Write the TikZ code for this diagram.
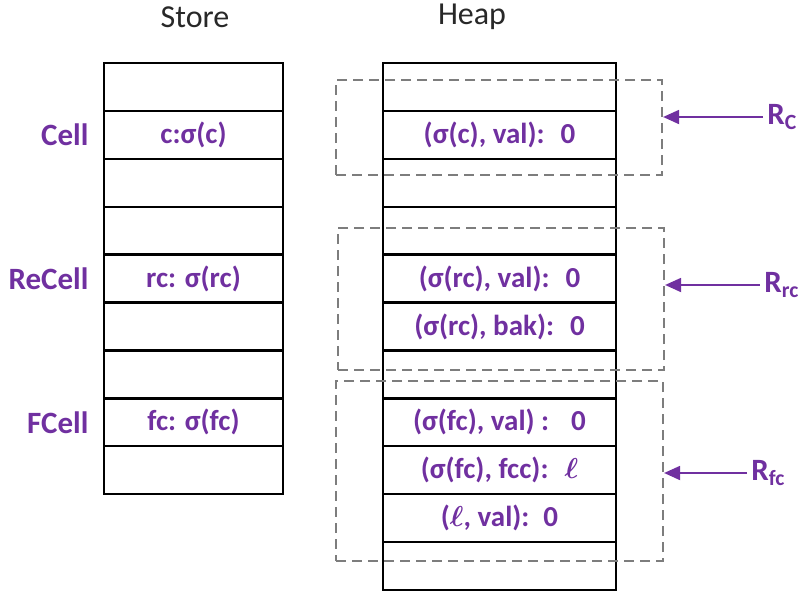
\documentclass[tikz,border=0pt]{standalone}
\usepackage{amsmath}
\usepackage{fontspec}
\setmainfont{Carlito}
\usetikzlibrary{arrows.meta,positioning}
\definecolor{lblInk}{RGB}{112,48,160}
\definecolor{regInk}{RGB}{125,125,125}
\definecolor{ttlInk}{RGB}{40,40,40}

\begin{document}
\begin{tikzpicture}[
  x=0.5pt, y=-0.5pt,
  slot/.style  ={draw=black, line width=1.2pt, minimum width=89.5pt, minimum height=23.95pt,
                 inner sep=0pt, text=lblInk, font=\fontsize{14.5}{16}\selectfont\bfseries},
  hslot/.style ={slot, minimum width=116.5pt},
  region/.style={draw=regInk, line width=1.1pt, dash pattern=on 5pt off 3pt, inner sep=0pt},
  lbl/.style   ={text=lblInk, inner sep=2pt, font=\fontsize{15.5}{17}\selectfont\bfseries},
  ttl/.style   ={text=ttlInk, inner sep=0pt, font=\fontsize{16}{18}\selectfont},
  ptr/.style   ={-{Triangle[length=8pt,width=7pt]}, line width=.9pt, draw=lblInk},
]
\useasboundingbox (0,0) rectangle (811,596);

% ============ STORE ============
\node[ttl] (store) at (195,17) {Store};
\foreach \i/\txt in {1/{},2/{c:σ(c)},3/{},4/{},5/{rc: σ(rc)},6/{},7/{},8/{fc: σ(fc)},9/{}}
  \node[slot] (s\i) at (193.5,{63+47.9*(\i-0.5)}) {\txt};

\node[lbl, left=5pt of s2] (cell)   {Cell};
\node[lbl, left=5pt of s5] (recell) {ReCell};
\node[lbl, left=5pt of s8] (fcell)  {FCell};

% ============ HEAP ============
\node[ttl] (heap) at (472,17) {Heap};
\foreach \i/\txt in {1/{},2/{(σ(c), val):\hspace{8pt}0},3/{},4/{},
                     5/{(σ(rc), val):\hspace{8pt}0},6/{(σ(rc), bak):\hspace{8pt}0},7/{},
                     8/{(σ(fc), val) :\hspace{11pt}0},9/{(σ(fc), fcc):\hspace{8pt}$\boldsymbol{\ell}$},
                     10/{($\boldsymbol{\ell}$, val):\hspace{7pt}0},11/{}}
  \node[hslot] (h\i) at (499.5,{63+47.9*(\i-0.5)}) {\txt};

% ============ REGIONS ============
\node[region, minimum width=163pt,   minimum height=47.5pt] (rc)  at (499,127.5) {};
\node[region, minimum width=163pt,   minimum height=71pt]   (rrc) at (501,299) {};
\node[region, minimum width=163.5pt, minimum height=90pt]   (rfc) at (499.5,471) {};

\node[lbl, anchor=west] (lrc)  at (763,117) {R\textsubscript{C}};
\node[lbl, anchor=west] (lrrc) at (760,285) {R\textsubscript{rc}};
\node[lbl, anchor=west] (lrfc) at (747,473) {R\textsubscript{fc}};

\draw[ptr] (lrc.west)  -- (lrc.west -| rc.east);
\draw[ptr] (lrrc.west) -- (lrrc.west -| rrc.east);
\draw[ptr] (lrfc.west) -- (lrfc.west -| rfc.east);

\end{tikzpicture}
\end{document}
